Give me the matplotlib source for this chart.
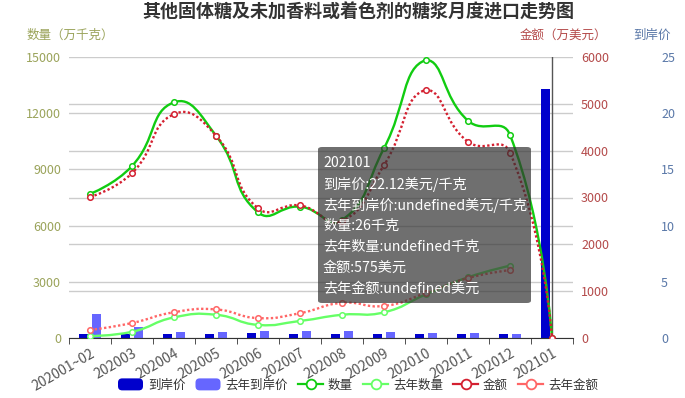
import numpy as np
import matplotlib
matplotlib.use('Agg')
import matplotlib.pyplot as plt
from matplotlib.path import Path
from matplotlib.patches import PathPatch, Patch, FancyBboxPatch
from matplotlib.lines import Line2D
from matplotlib.legend_handler import HandlerPatch

plt.rcParams['font.family'] = ['Noto Sans CJK SC', 'DejaVu Sans']

# -------------------------------
# Data
# -------------------------------
months = ['202001~02', '202003', '202004', '202005', '202006', '202007',
          '202008', '202009', '202010', '202011', '202012', '202101']
# 数量 (万千克)
qty = [7690, 9180, 12580, 10800, 6710, 7010, 6300, 10130, 14840, 11600, 10840, 0.0026]
qty_ly = [100, 330, 1100, 1240, 700, 910, 1240, 1370, 2330, 3240, 3860, np.nan]
# 金额 (万美元)
amount = [3010, 3520, 4780, 4320, 2770, 2830, 2500, 3690, 5300, 4190, 3960, 0.0575]
amount_ly = [170, 320, 550, 610, 425, 530, 750, 685, 960, 1280, 1450, np.nan]
# 到岸价 (美元/千克)
price = [0.40, 0.40, 0.39, 0.40, 0.41, 0.40, 0.40, 0.37, 0.36, 0.36, 0.37, 22.12]
price_ly = [2.1, 1.0, 0.53, 0.52, 0.62, 0.58, 0.6, 0.53, 0.42, 0.42, 0.40, np.nan]

tooltip = ['202101', '到岸价:22.12美元/千克', '去年到岸价:undefined美元/千克',
           '数量:26千克', '去年数量:undefined千克', '金额:575美元', '去年金额:undefined美元']

C_PRICE, C_PRICE_LY = '#0000cc', '#6666ff'
C_QTY, C_QTY_LY = '#11cc11', '#66ff66'
C_AMT, C_AMT_LY = '#d42030', '#ff6666'
C_LEFT, C_RIGHT, C_THIRD = '#9aa35a', '#b44a4a', '#5a78a8'

W, H = 685, 398
fig = plt.figure(figsize=(W / 100, H / 100), dpi=100)
L, R, T, B = 69, 573, 57, 338
ax = fig.add_axes([L / W, 1 - B / H, (R - L) / W, (B - T) / H])
ax_q = ax.twinx()
ax_m = ax.twinx()

x = np.arange(len(months))

# -------------------------------
# Bars on 到岸价 axis (base axes, drawn under the lines)
# -------------------------------
bw, off = 0.21, 0.16
ax.bar(x - off, price, bw, color=C_PRICE, zorder=2)
ax.bar(x + off, price_ly, bw, color=C_PRICE_LY, zorder=2)
ax.set_xlim(-0.5, len(months) - 0.5)
ax.set_ylim(0, 25)
ax.set_yticks([0, 5, 10, 15, 20, 25])
ax.set_yticks([25 * k / 6 for k in range(7)], minor=True)
ax.grid(True, axis='y', which='both', color='#cccccc', lw=1, zorder=0)
ax.set_axisbelow(True)
ax.yaxis.tick_right()
ax.spines['right'].set_position(('axes', (653 - L) / (R - L)))
ax.tick_params(axis='y', which='both', length=0, pad=5.8, labelsize=9, labelcolor=C_THIRD)
for s in ['top', 'left', 'right']:
    ax.spines[s].set_visible(False)
ax.spines['bottom'].set_color('#333333')

ax.set_xticks(x)
ax.set_xticklabels(months, rotation=30, ha='right', rotation_mode='anchor')
ax.set_xticks(np.arange(len(months) + 1) - 0.5, minor=True)
ax.tick_params(axis='x', which='major', length=0, pad=6, labelsize=10, labelcolor='#555555')
ax.tick_params(axis='x', which='minor', length=4, color='#333333')

# axis pointer at hovered month
ax.axvline(11, color='#555555', lw=1, zorder=1)

# -------------------------------
# Line axes
# -------------------------------
ax_q.set_ylim(0, 15000)
ax_q.set_yticks(range(0, 15001, 3000))
ax_q.yaxis.tick_left()
ax_q.tick_params(axis='y', length=0, pad=5.8, labelsize=9, labelcolor=C_LEFT)
ax_m.set_ylim(0, 6000)
ax_m.set_yticks(range(0, 6001, 1000))
ax_m.tick_params(axis='y', length=0, pad=5.8, labelsize=9, labelcolor=C_RIGHT)
for a in (ax_q, ax_m):
    for s in a.spines.values():
        s.set_visible(False)


def smooth_line(a, xs, ys, color, ls, lw=1.7, smooth=0.5, z=3):
    xs, ys = np.asarray(xs, float), np.asarray(ys, float)
    ok = ~np.isnan(ys)
    pts = a.transData.transform(np.column_stack([xs[ok], ys[ok]]))
    lo, hi = pts.min(axis=0), pts.max(axis=0)
    n = len(pts)
    cps = []
    for i in range(n):
        if i == 0 or i == n - 1:
            cps.append(pts[i])
            continue
        p0, p1, p2 = pts[i - 1], pts[i], pts[i + 1]
        v = (p2 - p0) * smooth
        d0, d1 = np.hypot(*(p1 - p0)), np.hypot(*(p2 - p1))
        s = d0 + d1
        cps.append(np.clip(p1 - v * d0 / s, lo, hi))
        cps.append(np.clip(p1 + v * d1 / s, lo, hi))
    verts, codes = [pts[0]], [Path.MOVETO]
    for i in range(n - 1):
        verts += [cps[2 * i], cps[2 * i + 1], pts[i + 1]]
        codes += [Path.CURVE4] * 3
    verts = a.transData.inverted().transform(np.array(verts))
    a.add_patch(PathPatch(Path(verts, codes), fill=False, edgecolor=color,
                          lw=lw, ls=ls, zorder=z, capstyle='butt'))
    a.plot(xs, ys, 'o', ms=4, mfc='white', mec=color, mew=1.1, zorder=z + 1)


dots = (0, (1, 1))
smooth_line(ax_q, x, qty_ly, C_QTY_LY, '-')
smooth_line(ax_m, x, amount_ly, C_AMT_LY, dots)
smooth_line(ax_q, x, qty, C_QTY, '-')
smooth_line(ax_m, x, amount, C_AMT, dots)

# -------------------------------
# Texts
# -------------------------------
fig.text(358 / W, 1 - 12 / H, '其他固体糖及未加香料或着色剂的糖浆月度进口走势图',
         ha='center', va='center', fontsize=13, fontweight='bold', color='#333333')
fig.text(27 / W, 1 - 35 / H, '数量（万千克）', ha='left', va='center', fontsize=9, color=C_LEFT)
fig.text(607 / W, 1 - 35 / H, '金额（万美元）', ha='right', va='center', fontsize=9, color=C_RIGHT)
fig.text(652 / W, 1 - 35 / H, '到岸价', ha='center', va='center', fontsize=9, color=C_THIRD)


# -------------------------------
# Legend
# -------------------------------
class RoundHandler(HandlerPatch):
    def create_artists(self, legend, orig, xd, yd, w, h, fontsize, trans):
        p = FancyBboxPatch((-xd, -yd), w, h, boxstyle='round,pad=0,rounding_size=3',
                           fc=orig.get_facecolor(), ec='none', transform=trans)
        return [p]


handles = [
    Patch(color=C_PRICE, label='到岸价'),
    Patch(color=C_PRICE_LY, label='去年到岸价'),
    Line2D([], [], color=C_QTY, lw=1.6, marker='o', ms=7, mfc='white', mew=1.3, label='数量'),
    Line2D([], [], color=C_QTY_LY, lw=1.6, marker='o', ms=7, mfc='white', mew=1.3, label='去年数量'),
    Line2D([], [], color=C_AMT, lw=1.6, marker='o', ms=7, mfc='white', mew=1.3, label='金额'),
    Line2D([], [], color=C_AMT_LY, lw=1.6, marker='o', ms=7, mfc='white', mew=1.3, label='去年金额'),
]
leg = fig.legend(handles=handles, loc='center', bbox_to_anchor=(358 / W, 1 - 385 / H),
                 ncol=6, frameon=False, fontsize=9, handlelength=2.0, handleheight=1.1,
                 handletextpad=0.4, columnspacing=0.8,
                 handler_map={Patch: RoundHandler()})
for t in leg.get_texts():
    t.set_color('#333333')

# -------------------------------
# Tooltip
# -------------------------------
x0, x1, y0, y1 = 318, 531, 147, 303
fig.patches.append(FancyBboxPatch((x0 / W, 1 - y1 / H), (x1 - x0) / W, (y1 - y0) / H,
                                  boxstyle='round,pad=0,rounding_size=0.006',
                                  transform=fig.transFigure, fc='#323232', alpha=0.7,
                                  ec='none', zorder=5))
for i, line in enumerate(tooltip):
    fig.text(323 / W, 1 - (163 + 21 * i) / H, line, ha='left', va='center',
             fontsize=10.2, color='white', zorder=6)

fig.savefig('out.png', dpi=100)
